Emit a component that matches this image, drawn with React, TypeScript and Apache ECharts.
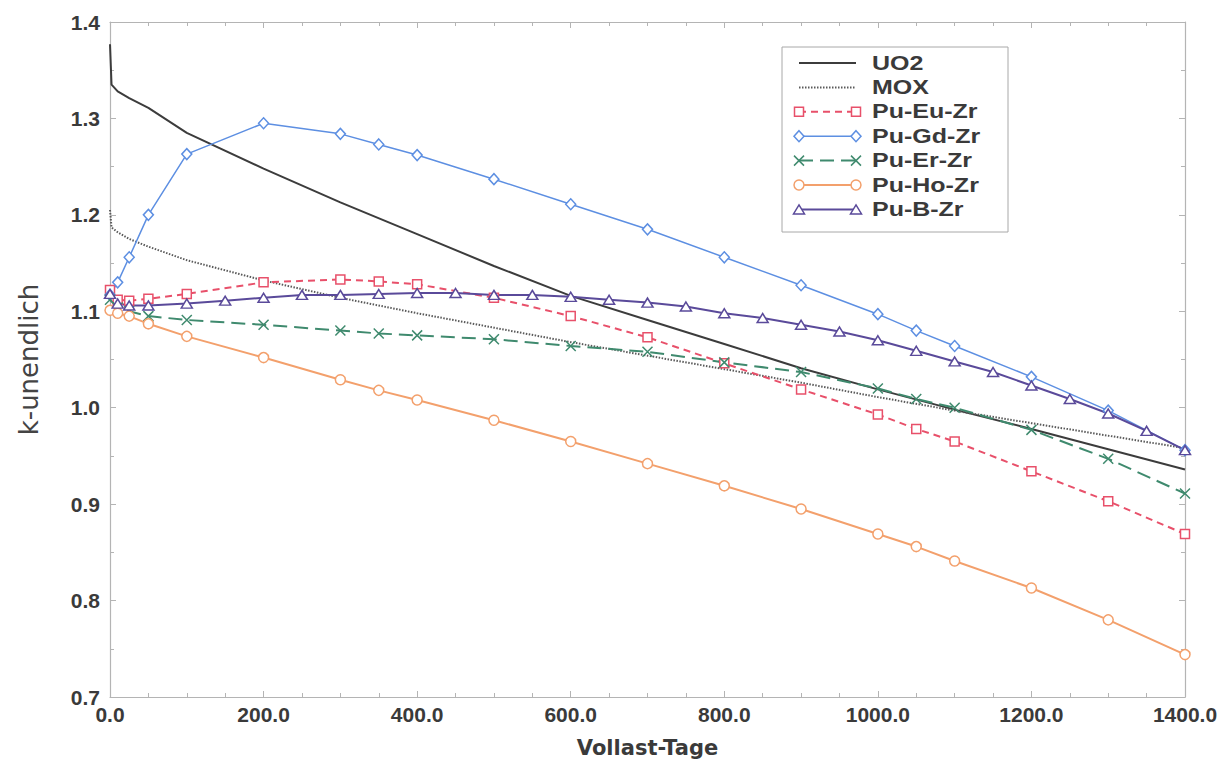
import React, { useEffect, useRef } from "react";
import * as echarts from "echarts";

// Burn-up (full-power days) vs. k-infinity for the fuel variants
const uo2Days = [0, 2, 10, 25, 50, 100, 200, 300, 400, 500, 600, 700, 800, 900, 1000, 1100, 1200, 1300, 1400];
const uo2K = [1.377, 1.335, 1.328, 1.321, 1.311, 1.285, 1.248, 1.213, 1.180, 1.147, 1.116, 1.091, 1.066, 1.041, 1.019, 0.998, 0.978, 0.957, 0.936];

const moxDays = [0, 2, 10, 25, 50, 100, 200, 300, 400, 500, 600, 700, 800, 900, 1000, 1100, 1200, 1300, 1400];
const moxK = [1.205, 1.187, 1.182, 1.175, 1.167, 1.153, 1.132, 1.114, 1.098, 1.083, 1.068, 1.054, 1.040, 1.026, 1.011, 0.997, 0.984, 0.971, 0.958];

const euDays = [0, 10, 25, 50, 100, 200, 300, 350, 400, 500, 600, 700, 800, 900, 1000, 1050, 1100, 1200, 1300, 1400];
const euK = [1.122, 1.112, 1.111, 1.113, 1.118, 1.130, 1.133, 1.131, 1.128, 1.114, 1.095, 1.073, 1.046, 1.019, 0.993, 0.978, 0.965, 0.934, 0.903, 0.869];

const gdDays = [0, 10, 25, 50, 100, 200, 300, 350, 400, 500, 600, 700, 800, 900, 1000, 1050, 1100, 1200, 1300, 1400];
const gdK = [1.117, 1.130, 1.156, 1.200, 1.263, 1.295, 1.284, 1.273, 1.262, 1.237, 1.211, 1.185, 1.156, 1.127, 1.097, 1.080, 1.064, 1.032, 0.997, 0.956];

const erDays = [0, 10, 25, 50, 100, 200, 300, 350, 400, 500, 600, 700, 800, 900, 1000, 1050, 1100, 1200, 1300, 1400];
const erK = [1.112, 1.104, 1.100, 1.095, 1.091, 1.086, 1.080, 1.077, 1.075, 1.071, 1.064, 1.058, 1.047, 1.037, 1.020, 1.009, 1.000, 0.977, 0.947, 0.911];

const hoDays = [0, 10, 25, 50, 100, 200, 300, 350, 400, 500, 600, 700, 800, 900, 1000, 1050, 1100, 1200, 1300, 1400];
const hoK = [1.101, 1.098, 1.095, 1.087, 1.074, 1.052, 1.029, 1.018, 1.008, 0.987, 0.965, 0.942, 0.919, 0.895, 0.869, 0.856, 0.841, 0.813, 0.780, 0.744];

const bDays = [0, 10, 25, 50, 100, 150, 200, 250, 300, 350, 400, 450, 500, 550, 600, 650, 700, 750, 800, 850, 900, 950, 1000, 1050, 1100, 1150, 1200, 1250, 1300, 1350, 1400];
const bK = [1.118, 1.108, 1.106, 1.106, 1.108, 1.111, 1.114, 1.117, 1.117, 1.118, 1.119, 1.119, 1.117, 1.117, 1.115, 1.112, 1.109, 1.105, 1.098, 1.093, 1.086, 1.079, 1.070, 1.059, 1.048, 1.037, 1.023, 1.009, 0.994, 0.976, 0.956];

const xTicks = { min: 0, max: 1400, step: 200 };
const yTicks = { min: 0.7, max: 1.4, step: 0.1 };

const FONT = "'Liberation Sans', Arial, Helvetica, sans-serif";
const WIDE_FONT = "'DejaVu Sans', 'Liberation Sans', sans-serif";
const TEXT = "#3a3a3a";
const FRAME = "#b4b4b4";

type Marker = "none" | "rect" | "diamond" | "cross" | "circle" | "triangle";

const CROSS_PATH = "path://M0,0L10,10M10,0L0,10";

const seriesDefs: {
  name: string;
  days: number[];
  k: number[];
  color: string;
  width: number;
  dash: number[] | "solid";
  marker: Marker;
}[] = [
  { name: "UO2", days: uo2Days, k: uo2K, color: "#3c3c3c", width: 2, dash: "solid", marker: "none" },
  { name: "MOX", days: moxDays, k: moxK, color: "#5a5a5a", width: 2, dash: [1.5, 1.5], marker: "none" },
  { name: "Pu-Eu-Zr", days: euDays, k: euK, color: "#e8506a", width: 2, dash: [7, 5], marker: "rect" },
  { name: "Pu-Gd-Zr", days: gdDays, k: gdK, color: "#5d8fe2", width: 1.5, dash: "solid", marker: "diamond" },
  { name: "Pu-Er-Zr", days: erDays, k: erK, color: "#3f8a6e", width: 2, dash: [14, 7], marker: "cross" },
  { name: "Pu-Ho-Zr", days: hoDays, k: hoK, color: "#f3a06c", width: 2, dash: "solid", marker: "circle" },
  { name: "Pu-B-Zr", days: bDays, k: bK, color: "#5a4a9a", width: 2, dash: "solid", marker: "triangle" },
];

function symbolOf(m: Marker): { symbol: string; size: number | number[] } {
  switch (m) {
    case "rect":
      return { symbol: "rect", size: 9 };
    case "diamond":
      return { symbol: "diamond", size: [10, 11] };
    case "cross":
      return { symbol: CROSS_PATH, size: 10 };
    case "circle":
      return { symbol: "circle", size: 10 };
    case "triangle":
      return { symbol: "triangle", size: [11, 9] };
    default:
      return { symbol: "none", size: 0 };
  }
}

// Marker glyphs for the legend box, drawn with graphic primitives
function legendMarker(m: Marker, cx: number, cy: number, color: string): any[] {
  const style = { fill: "#fff", stroke: color, lineWidth: 1.5 };
  switch (m) {
    case "rect":
      return [{ type: "rect", shape: { x: cx - 4.5, y: cy - 4.5, width: 9, height: 9 }, style }];
    case "diamond":
      return [{ type: "polygon", shape: { points: [[cx, cy - 5.5], [cx + 5, cy], [cx, cy + 5.5], [cx - 5, cy]] }, style }];
    case "cross":
      return [
        { type: "line", shape: { x1: cx - 5, y1: cy - 5, x2: cx + 5, y2: cy + 5 }, style: { stroke: color, lineWidth: 1.5 } },
        { type: "line", shape: { x1: cx + 5, y1: cy - 5, x2: cx - 5, y2: cy + 5 }, style: { stroke: color, lineWidth: 1.5 } },
      ];
    case "circle":
      return [{ type: "circle", shape: { cx, cy, r: 5 }, style }];
    case "triangle":
      return [{ type: "polygon", shape: { points: [[cx, cy - 4.5], [cx + 5.5, cy + 4.5], [cx - 5.5, cy + 4.5]] }, style }];
    default:
      return [];
  }
}

function buildLegend(): any[] {
  const box = { x: 782, y: 47, w: 226, h: 185 };
  const rowTop = 63;
  const rowGap = 24.4;
  const lx1 = 799;
  const lx2 = 856;
  const els: any[] = [
    { type: "rect", shape: { x: box.x, y: box.y, width: box.w, height: box.h }, style: { fill: "#fff", stroke: "#a8a8a8", lineWidth: 1 }, z: 10 },
  ];
  seriesDefs.forEach((s, i) => {
    const y = rowTop + i * rowGap;
    els.push({
      type: "line",
      z: 11,
      shape: { x1: lx1, y1: y, x2: lx2, y2: y },
      style: { stroke: s.color, lineWidth: s.width, lineDash: s.dash === "solid" ? null : s.dash },
    });
    legendMarker(s.marker, lx1, y, s.color).forEach((e) => els.push({ ...e, z: 12 }));
    legendMarker(s.marker, lx2, y, s.color).forEach((e) => els.push({ ...e, z: 12 }));
    els.push({
      type: "text",
      z: 12,
      x: 872,
      y,
      scaleX: 1.25,
      style: { text: s.name, font: `bold 20px ${FONT}`, fill: TEXT, textVerticalAlign: "middle", textAlign: "left" },
    });
  });
  return els;
}

const fmt1 = (v: number) => v.toFixed(1);

const tickLabel = { show: true, fontFamily: FONT, fontSize: 21, fontWeight: "bold", color: TEXT, formatter: fmt1 };

function frameAxis() {
  return {
    axisLine: { show: true, onZero: false, lineStyle: { color: FRAME, width: 1.2 } },
    axisTick: { show: true, inside: true, length: 6, lineStyle: { color: FRAME, width: 1 } },
    splitLine: { show: false },
  };
}

export default function App() {
  const ref = useRef<HTMLDivElement>(null);

  useEffect(() => {
    if (!ref.current) return;
    const chart = echarts.init(ref.current, undefined, { renderer: "svg" });

    const xMinor = { show: true, splitNumber: 4, length: 4, lineStyle: { color: FRAME } };
    const yMinor = { show: true, splitNumber: 2, length: 4, lineStyle: { color: FRAME } };

    const option: any = {
      animation: false,
      backgroundColor: "#ffffff",
      grid: { left: 110, right: 41, top: 22, bottom: 60 },
      xAxis: [
        {
          type: "value",
          position: "bottom",
          min: xTicks.min,
          max: xTicks.max,
          interval: xTicks.step,
          ...frameAxis(),
          minorTick: xMinor,
          axisLabel: { ...tickLabel, margin: 7 },
          name: "Vollast-Tage",
          nameLocation: "middle",
          nameGap: 40,
          nameTextStyle: { fontFamily: WIDE_FONT, fontSize: 21, fontWeight: "bold", color: TEXT },
        },
        {
          type: "value",
          position: "top",
          min: xTicks.min,
          max: xTicks.max,
          interval: xTicks.step,
          ...frameAxis(),
          minorTick: xMinor,
          axisLabel: { show: false },
        },
      ],
      yAxis: [
        {
          type: "value",
          position: "left",
          min: yTicks.min,
          max: yTicks.max,
          interval: yTicks.step,
          ...frameAxis(),
          minorTick: yMinor,
          axisLabel: { ...tickLabel, margin: 10 },
          name: "k-unendlich",
          nameLocation: "middle",
          nameGap: 68,
          nameRotate: 90,
          nameTextStyle: { fontFamily: WIDE_FONT, fontSize: 26, color: "#444444" },
        },
        {
          type: "value",
          position: "right",
          min: yTicks.min,
          max: yTicks.max,
          interval: yTicks.step,
          ...frameAxis(),
          minorTick: yMinor,
          axisLabel: { show: false },
        },
      ],
      series: seriesDefs.map((s) => {
        const sym = symbolOf(s.marker);
        return {
          name: s.name,
          type: "line",
          xAxisIndex: 0,
          yAxisIndex: 0,
          data: s.days.map((d, i) => [d, s.k[i]]),
          showSymbol: s.marker !== "none",
          symbol: sym.symbol,
          symbolSize: sym.size,
          lineStyle: { color: s.color, width: s.width, type: s.dash },
          itemStyle: { color: "#ffffff", borderColor: s.color, borderWidth: 1.5 },
          emphasis: { disabled: true },
          z: 3,
        };
      }),
      graphic: buildLegend(),
    };

    chart.setOption(option);
    return () => chart.dispose();
  }, []);

  return (
    <div
      ref={ref}
      style={{ position: "fixed", left: 0, top: 0, width: 1226, height: 763, background: "#fff" }}
    />
  );
}
